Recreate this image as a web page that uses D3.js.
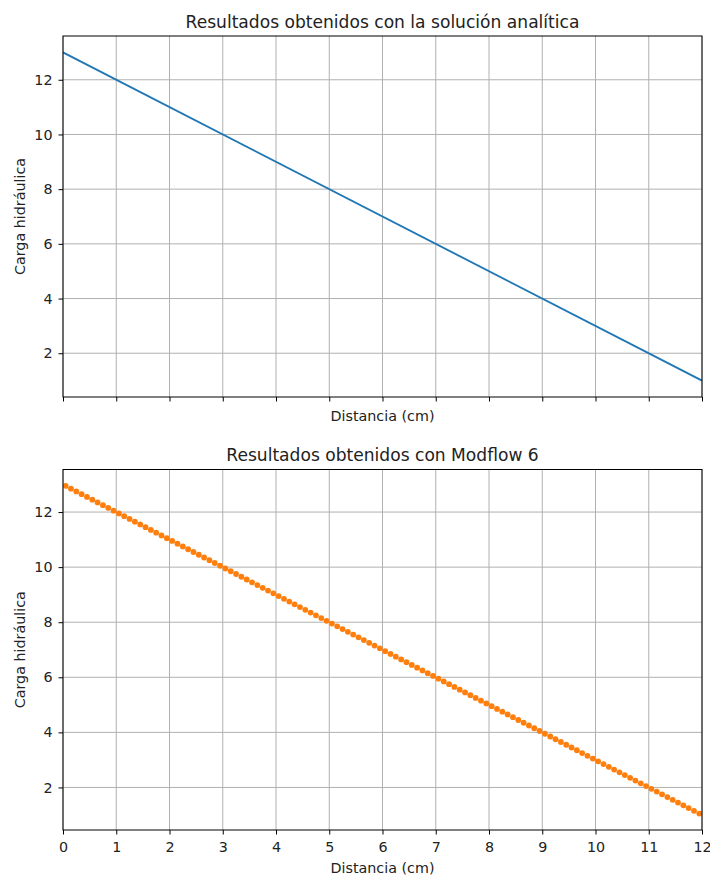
<!DOCTYPE html>
<html>
<head>
<meta charset="utf-8">
<script src="https://cdn.jsdelivr.net/npm/d3@7"></script>
<style>
  html, body { margin: 0; padding: 0; background: #fff; }
  svg { display: block; font-family: "DejaVu Sans", sans-serif; }
</style>
</head>
<body>
<svg id="chart" width="710" height="875"></svg>
<script>
// Analytical solution: straight head drop from 13 at x=0 to 1 at x=12
const analyticX = [0, 12];
const analyticH = [13, 1];

// Modflow 6 cell-centre results (120 cells of 0.1 cm)
const modflowX = [
  0.05,0.15,0.25,0.35,0.45,0.55,0.65,0.75,0.85,0.95,
  1.05,1.15,1.25,1.35,1.45,1.55,1.65,1.75,1.85,1.95,
  2.05,2.15,2.25,2.35,2.45,2.55,2.65,2.75,2.85,2.95,
  3.05,3.15,3.25,3.35,3.45,3.55,3.65,3.75,3.85,3.95,
  4.05,4.15,4.25,4.35,4.45,4.55,4.65,4.75,4.85,4.95,
  5.05,5.15,5.25,5.35,5.45,5.55,5.65,5.75,5.85,5.95,
  6.05,6.15,6.25,6.35,6.45,6.55,6.65,6.75,6.85,6.95,
  7.05,7.15,7.25,7.35,7.45,7.55,7.65,7.75,7.85,7.95,
  8.05,8.15,8.25,8.35,8.45,8.55,8.65,8.75,8.85,8.95,
  9.05,9.15,9.25,9.35,9.45,9.55,9.65,9.75,9.85,9.95,
  10.05,10.15,10.25,10.35,10.45,10.55,10.65,10.75,10.85,10.95,
  11.05,11.15,11.25,11.35,11.45,11.55,11.65,11.75,11.85,11.95
];
const modflowH = [
  12.95,12.85,12.75,12.65,12.55,12.45,12.35,12.25,12.15,12.05,
  11.95,11.85,11.75,11.65,11.55,11.45,11.35,11.25,11.15,11.05,
  10.95,10.85,10.75,10.65,10.55,10.45,10.35,10.25,10.15,10.05,
  9.95,9.85,9.75,9.65,9.55,9.45,9.35,9.25,9.15,9.05,
  8.95,8.85,8.75,8.65,8.55,8.45,8.35,8.25,8.15,8.05,
  7.95,7.85,7.75,7.65,7.55,7.45,7.35,7.25,7.15,7.05,
  6.95,6.85,6.75,6.65,6.55,6.45,6.35,6.25,6.15,6.05,
  5.95,5.85,5.75,5.65,5.55,5.45,5.35,5.25,5.15,5.05,
  4.95,4.85,4.75,4.65,4.55,4.45,4.35,4.25,4.15,4.05,
  3.95,3.85,3.75,3.65,3.55,3.45,3.35,3.25,3.15,3.05,
  2.95,2.85,2.75,2.65,2.55,2.45,2.35,2.25,2.15,2.05,
  1.95,1.85,1.75,1.65,1.55,1.45,1.35,1.25,1.15,1.05
];

const xTicks = [0,1,2,3,4,5,6,7,8,9,10,11,12];
const yTicks = [2,4,6,8,10,12];

const titles = ["Resultados obtenidos con la solución analítica", "Resultados obtenidos con Modflow 6"];
const xLabel = "Distancia (cm)";
const yLabel = "Carga hidráulica";

const svg = d3.select("#chart");
const left = 63, right = 702;
const labelSize = "14.3px", titleSize = "17.1px";
const panels = [
  { top: 36, bottom: 397, showTickLabels: false, xLabelY: 421 },
  { top: 469.5, bottom: 830, showTickLabels: true, xLabelY: 873 }
];

function yDomainWithMargin(vals) {
  const lo = d3.min(vals), hi = d3.max(vals), m = (hi - lo) * 0.05;
  return [lo - m, hi + m];
}

const x = d3.scaleLinear().domain([0, 12]).range([left, right]);

panels.forEach((p, i) => {
  const vals = i === 0 ? analyticH : modflowH;
  const y = d3.scaleLinear().domain(yDomainWithMargin(vals)).range([p.bottom, p.top]);
  const g = svg.append("g");

  // grid
  g.append("g").selectAll("line").data(xTicks).join("line")
    .attr("x1", d => x(d)).attr("x2", d => x(d))
    .attr("y1", p.top).attr("y2", p.bottom)
    .attr("stroke", "#b0b0b0").attr("stroke-width", 1);
  g.append("g").selectAll("line").data(yTicks).join("line")
    .attr("x1", left).attr("x2", right)
    .attr("y1", d => y(d)).attr("y2", d => y(d))
    .attr("stroke", "#b0b0b0").attr("stroke-width", 1);

  // data
  const clipId = "clip" + i;
  svg.append("clipPath").attr("id", clipId).append("rect")
    .attr("x", left).attr("y", p.top).attr("width", right - left).attr("height", p.bottom - p.top);
  const dg = g.append("g").attr("clip-path", `url(#${clipId})`);
  if (i === 0) {
    const pts = analyticX.map((d, k) => [d, analyticH[k]]);
    dg.append("path").datum(pts)
      .attr("d", d3.line().x(d => x(d[0])).y(d => y(d[1])))
      .attr("fill", "none").attr("stroke", "#1f77b4").attr("stroke-width", 1.85);
  } else {
    const pts = modflowX.map((d, k) => [d, modflowH[k]]);
    dg.selectAll("circle").data(pts).join("circle")
      .attr("cx", d => x(d[0])).attr("cy", d => y(d[1]))
      .attr("r", 2.9).attr("fill", "#ff7f0e");
  }

  // axes
  const xAxis = d3.axisBottom(x).tickValues(xTicks).tickSize(4.5).tickPadding(7)
    .tickFormat(p.showTickLabels ? d3.format("d") : () => "");
  const xa = g.append("g").attr("transform", `translate(0,${p.bottom})`).call(xAxis);
  const yAxis = d3.axisLeft(y).tickValues(yTicks).tickSize(4.5).tickPadding(6).tickFormat(d3.format("d"));
  const ya = g.append("g").attr("transform", `translate(${left},0)`).call(yAxis);
  [xa, ya].forEach(a => {
    a.select(".domain").remove();
    a.selectAll(".tick line").attr("stroke", "#000").attr("stroke-width", 1);
    a.selectAll(".tick text").attr("fill", "#222").style("font-size", labelSize)
      .style("font-family", "'DejaVu Sans', sans-serif");
  });

  // frame
  g.append("rect").attr("x", left).attr("y", p.top)
    .attr("width", right - left).attr("height", p.bottom - p.top)
    .attr("fill", "none").attr("stroke", "#000").attr("stroke-width", 1);

  // title and labels
  g.append("text").attr("x", (left + right) / 2).attr("y", p.top - 8.5)
    .attr("text-anchor", "middle").attr("fill", "#222").style("font-size", titleSize)
    .text(titles[i]);
  g.append("text").attr("x", (left + right) / 2).attr("y", p.xLabelY)
    .attr("text-anchor", "middle").attr("fill", "#222").style("font-size", labelSize)
    .text(xLabel);
  g.append("text")
    .attr("transform", `translate(25,${(p.top + p.bottom) / 2}) rotate(-90)`)
    .attr("text-anchor", "middle").attr("fill", "#222").style("font-size", labelSize)
    .text(yLabel);
});
</script>
</body>
</html>
